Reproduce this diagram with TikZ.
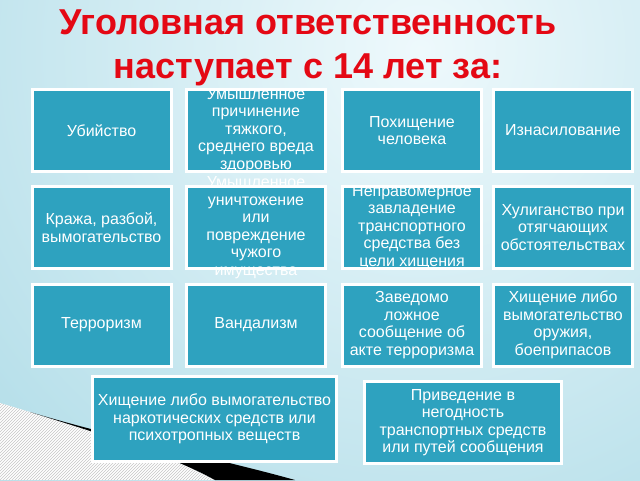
\documentclass[tikz,border=0pt]{standalone}
\usepackage{fontspec}
\setmainfont{Liberation Sans}
\usetikzlibrary{patterns}
\definecolor{tealbox}{RGB}{46,162,191}
\definecolor{titlered}{RGB}{228,8,20}
\definecolor{bgblue}{RGB}{156,211,225}
\definecolor{bglight}{RGB}{238,249,252}

\begin{document}
\begin{tikzpicture}[x=1pt, y=-1pt,
    crime/.style={draw=white, line width=3pt, fill=tealbox, inner sep=0pt,
        minimum width=139pt, minimum height=82pt},
    crimetext/.style={text=white, align=center, inner sep=0pt,
        font=\fontsize{16}{17.5}\selectfont},
    swoosh/.style={pattern=north east lines, pattern color=gray!45}]
        \useasboundingbox (0,0) rectangle (640,480);

        % background
        \begin{scope}
            \clip (0,0) rectangle (640,480);
            \shade[inner color=bglight, outer color=bgblue] (420,50) circle[radius=820pt];
        \end{scope}

        % corner swoosh
        \fill[white] (0,403) -- (30,412) .. controls (100,434) and (170,455) .. (215,480) -- (0,480) -- cycle;
        \fill[swoosh] (0,403) -- (30,412) .. controls (100,434) and (170,455) .. (215,480) -- (0,480) -- cycle;
        \fill[black] (30,412) .. controls (120,439) and (220,459) .. (295,480) -- (215,480)
            .. controls (170,455) and (100,434) .. (30,412) -- cycle;

        \node[text=titlered, align=center, font=\bfseries\fontsize{36}{44}\selectfont] (title) at (308,48)
            {Уголовная ответственность\\наступает с 14 лет за:};

        % first row
        \node[crime, label={[crimetext]center:Убийство}] (murder) at (101.5,130.5) {};
        \node[crime, label={[crimetext]center:{Умышленное\\причинение\\тяжкого,\\среднего вреда\\здоровью}}] (harm) at (256,130.5) {};
        \node[crime, label={[crimetext]center:{Похищение\\человека}}] (kidnap) at (412,130.5) {};
        \node[crime, label={[crimetext]center:Изнасилование}] (rape) at (563,130.5) {};

        % second row
        \node[crime, label={[crimetext]center:{Кража, разбой,\\вымогательство}}] (theft) at (101.5,227.5) {};
        \node[crime, label={[crimetext]center:{Умышленное\\уничтожение\\или\\повреждение\\чужого\\имущества}}] (damage) at (256,227.5) {};
        \node[crime, label={[crimetext]center:{Неправомерное\\завладение\\транспортного\\средства без\\цели хищения}}] (carjack) at (412,227.5) {};
        \node[crime, label={[crimetext]center:{Хулиганство при\\отягчающих\\обстоятельствах}}] (hooligan) at (563,227.5) {};

        % third row
        \node[crime, label={[crimetext]center:Терроризм}] (terror) at (101.5,325) {};
        \node[crime, label={[crimetext]center:Вандализм}] (vandal) at (256,325) {};
        \node[crime, label={[crimetext]center:{Заведомо\\ложное\\сообщение об\\акте терроризма}}] (falsealarm) at (412,325) {};
        \node[crime, label={[crimetext]center:{Хищение либо\\вымогательство\\оружия,\\боеприпасов}}] (weapons) at (563,325) {};

        % last row
        \node[crime, minimum width=244pt, minimum height=85pt,
            label={[crimetext]center:{Хищение либо вымогательство\\наркотических средств или\\психотропных веществ}}] (drugs) at (214.5,419) {};
        \node[crime, minimum width=197pt,
            label={[crimetext]center:{Приведение в\\негодность\\транспортных средств\\или путей сообщения}}] (transport) at (463,422.5) {};
\end{tikzpicture}
\end{document}
